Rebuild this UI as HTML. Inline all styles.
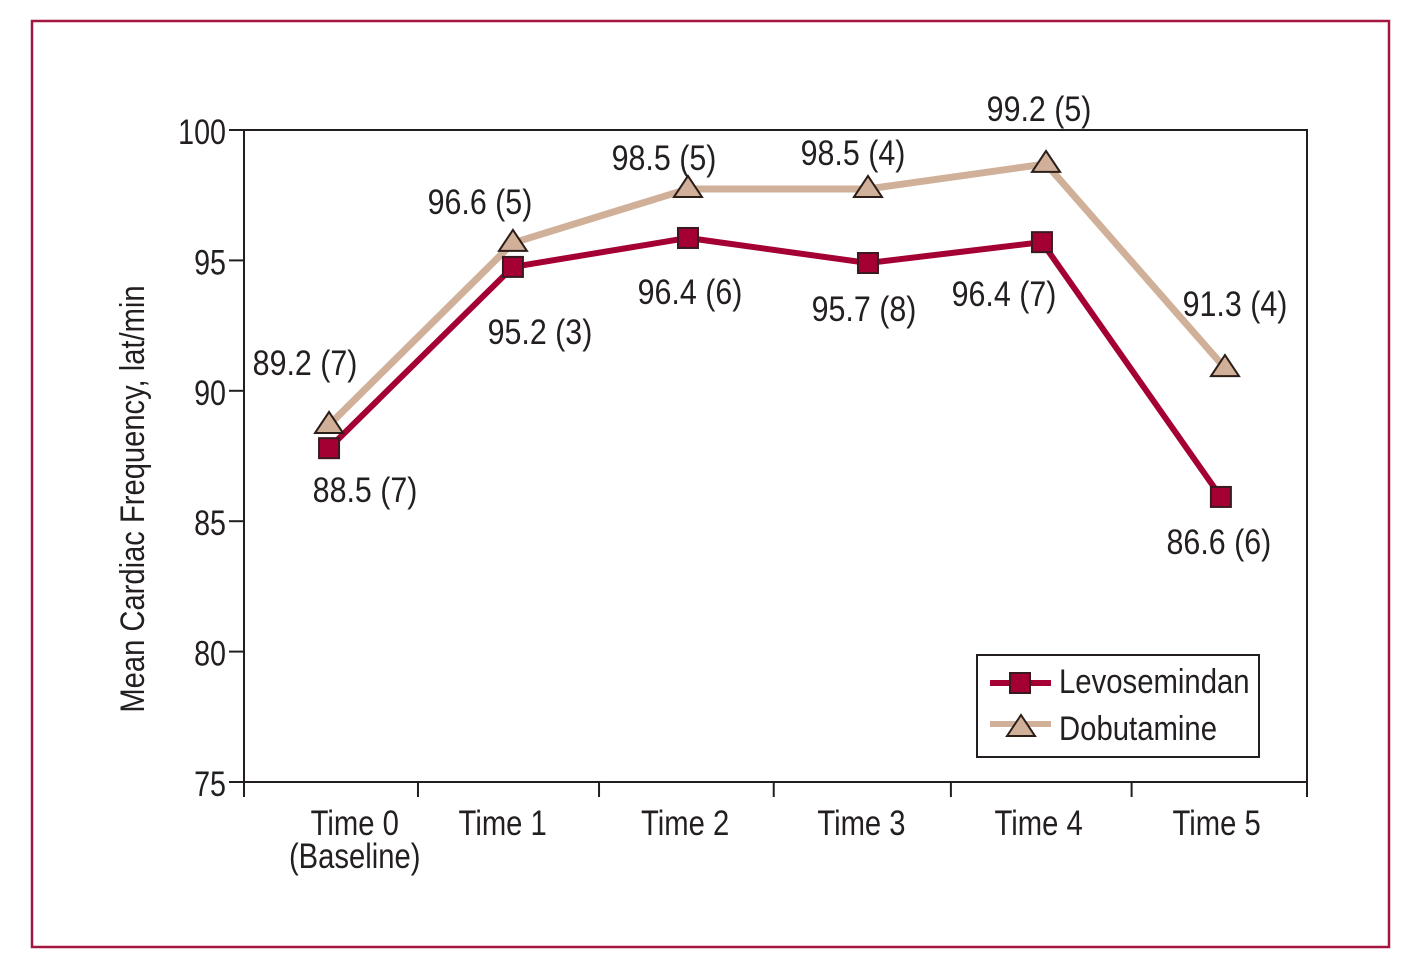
<!DOCTYPE html>
<html lang="en">
<head>
<meta charset="utf-8">
<title>Mean Cardiac Frequency</title>
<style>
html,body{margin:0;padding:0;background:#fff;}
svg{display:block;}
text{font-family:"Liberation Sans",Arial,sans-serif;fill:#231f20;}
</style>
</head>
<body>
<svg id="chart" xmlns="http://www.w3.org/2000/svg" width="1412" height="979" viewBox="0 0 1412 979">
  <rect x="32" y="21" width="1357" height="926" fill="#fff" stroke="#a3163f" stroke-width="2.5"/>
</svg>
<script>
const yTicks = [100, 95, 90, 85, 80, 75];
const categories = [["Time 0", "(Baseline)"], ["Time 1"], ["Time 2"], ["Time 3"], ["Time 4"], ["Time 5"]];
const bandEdges = [0, 0.982, 2.004, 2.99, 3.99, 5.01, 6];
const categoryCentres = [0.625, 1.46, 2.49, 3.485, 4.485, 5.49];
const levoTime = [0.48, 1.518, 2.506, 3.522, 4.504, 5.514];
const dobuTime = [0.48, 1.518, 2.506, 3.522, 4.527, 5.537];
const levoValues = [87.8, 94.75, 95.86, 94.9, 95.7, 85.93];
const dobuValues = [88.69, 95.67, 97.74, 97.74, 98.7, 90.87];
const levoLabels = ["88.5 (7)", "95.2 (3)", "96.4 (6)", "95.7 (8)", "96.4 (7)", "86.6 (6)"];
const dobuLabels = ["89.2 (7)", "96.6 (5)", "98.5 (5)", "98.5 (4)", "99.2 (5)", "91.3 (4)"];
const levoLabelDx = [36, 27, 2, -4, -38, -2];
const levoLabelDy = [54, 77, 66, 58, 64, 57];
const dobuLabelDx = [-24, -33, -24, -15, -7, 10];
const dobuLabelDy = [-50, -29, -19, -24, -43, -52];

const svg = document.getElementById('chart');
const NS = 'http://www.w3.org/2000/svg';
const INK = '#231f20';
const LEVO = '#a50034';
const DOBU = '#d1b09a';
const plot = {left: 244, right: 1307, top: 130, bottom: 782};

function x(t) { return plot.left + t * (plot.right - plot.left) / 6; }
function y(v) { return plot.top + (100 - v) * (plot.bottom - plot.top) / 25; }

function make(tag, props) {
  const el = document.createElementNS(NS, tag);
  for (const k in props) el.setAttribute(k, props[k]);
  svg.appendChild(el);
  return el;
}
function label(str, px, py, anchor, sx, size) {
  const el = make('text', {
    transform: 'translate(' + px + ',' + py + ') scale(' + sx + ',1)',
    'text-anchor': anchor,
    'font-size': size
  });
  el.textContent = str;
  return el;
}
function square(cx, cy) {
  return make('rect', {x: cx - 10, y: cy - 10, width: 20, height: 20, fill: LEVO, stroke: '#3a1a20', 'stroke-width': 2});
}
function triangle(cx, cy) {
  return make('polygon', {
    points: (cx - 14) + ',' + (cy + 8) + ' ' + cx + ',' + (cy - 13) + ' ' + (cx + 14) + ',' + (cy + 8),
    fill: DOBU, stroke: '#2b1d18', 'stroke-width': 2, 'stroke-linejoin': 'miter'
  });
}

/* axes */
const frameLine = make('path', {
  d: 'M' + plot.left + ' ' + (plot.bottom + 15) + 'V' + plot.top + 'H' + plot.right + 'V' + (plot.bottom + 15) + 'M' + plot.left + ' ' + plot.bottom + 'H' + plot.right,
  fill: 'none', stroke: INK, 'stroke-width': 2
});



yTicks.forEach(function (v) {
  const tick = make('line', {x1: plot.left - 15, x2: plot.left, y1: y(v), y2: y(v), stroke: INK, 'stroke-width': 2});
  
  
  const t = label(String(v), plot.left - 18, y(v) + 14, 'end', 0.82, 35);
  
  
});

bandEdges.slice(1, -1).forEach(function (e) {
  const tick = make('line', {x1: x(e), x2: x(e), y1: plot.bottom, y2: plot.bottom + 15, stroke: INK, 'stroke-width': 2});
  
  
});

categories.forEach(function (lines, i) {
  lines.forEach(function (str, j) {
    const t = label(str, x(categoryCentres[i]), 835 + j * 33, 'middle', 0.835, 35);
    
    
  });
});

const yTitle = make('text', {
  transform: 'translate(144,499) rotate(-90) scale(0.858,1)',
  'text-anchor': 'middle',
  'font-size': 34
});
yTitle.textContent = 'Mean Cardiac Frequency, lat/min';



/* series lines */
function linePoints(times, values) {
  return times.map(function (t, i) { return x(t) + ',' + y(values[i]); }).join(' ');
}
const dobuLine = make('polyline', {points: linePoints(dobuTime, dobuValues), fill: 'none', stroke: DOBU, 'stroke-width': 7});


const levoLine = make('polyline', {points: linePoints(levoTime, levoValues), fill: 'none', stroke: LEVO, 'stroke-width': 6});



/* markers and printed values */
dobuValues.forEach(function (v, i) {
  const m = triangle(x(dobuTime[i]), y(v));
  
  
  const t = label(dobuLabels[i], x(dobuTime[i]) + dobuLabelDx[i], y(v) + dobuLabelDy[i], 'middle', 0.869, 35);
  
  
});
levoValues.forEach(function (v, i) {
  const m = square(x(levoTime[i]), y(v));
  
  
  const t = label(levoLabels[i], x(levoTime[i]) + levoLabelDx[i], y(v) + levoLabelDy[i], 'middle', 0.869, 35);
  
  
});

/* legend */
const legendBox = make('rect', {x: 977, y: 655, width: 282, height: 102, fill: '#fff', stroke: INK, 'stroke-width': 2});



const legLine1 = make('line', {x1: 990, x2: 1051, y1: 683, y2: 683, stroke: LEVO, 'stroke-width': 6});


const legMark1 = square(1020, 683);


const legText1 = label('Levosemindan', 1059, 693, 'start', 0.862, 34);



const legLine2 = make('line', {x1: 990, x2: 1051, y1: 724, y2: 724, stroke: DOBU, 'stroke-width': 6});


const legMark2 = triangle(1021, 728);


const legText2 = label('Dobutamine', 1059, 740, 'start', 0.862, 34);


</script>
</body>
</html>
